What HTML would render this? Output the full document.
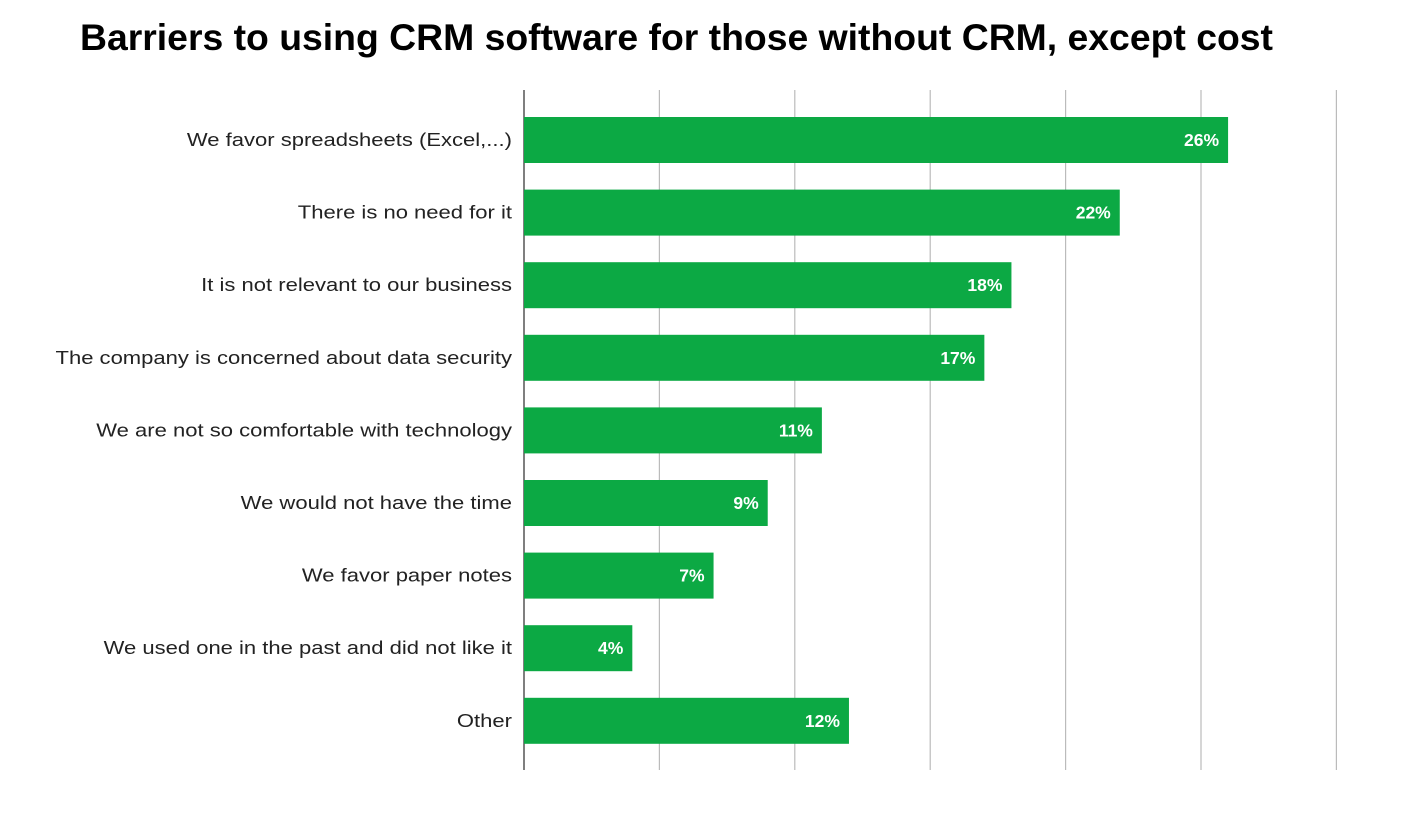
<!DOCTYPE html>
<html><head><meta charset="utf-8"><style>
body{margin:0;background:#fff;}
svg{display:block;font-family:"Liberation Sans",sans-serif;}
</style></head><body>
<svg id="chart" width="1403" height="817" viewBox="0 0 1403 817">
<text x="80" y="50" font-size="37" font-weight="bold" fill="#000" textLength="1193" lengthAdjust="spacingAndGlyphs">Barriers to using CRM software for those without CRM, except cost</text>
<g id="grid"></g><g id="bars"></g>
</svg>
<script>
const categories=["We favor spreadsheets (Excel,...)","There is no need for it","It is not relevant to our business","The company is concerned about data security","We are not so comfortable with technology","We would not have the time","We favor paper notes","We used one in the past and did not like it","Other"];
const values=[26,22,18,17,11,9,7,4,12];
const ticks=[0,5,10,15,20,25,30];
const NS="http://www.w3.org/2000/svg";
const x0=524,pxPer=27.08,top0=117,step=72.6,bh=46,yTop=90,yBot=770;
const xs=v=>x0+v*pxPer;
function mk(t,a,p){const e=document.createElementNS(NS,t);for(const k in a)e.setAttribute(k,a[k]);p.appendChild(e);return e;}
const grid=document.getElementById('grid'),bars=document.getElementById('bars');
ticks.forEach((t,i)=>{const l=mk('line',{x1:xs(t),x2:xs(t),y1:yTop,y2:yBot,stroke:i===0?'#555':'#bbb','stroke-width':i===0?1.5:1.2},grid);

});
categories.forEach((c,i)=>{const y=top0+i*step;
const r=mk('rect',{x:x0,y:y,width:xs(values[i])-x0,height:bh,fill:'#0ca944'},bars);


const lb=mk('text',{x:512,y:y+bh/2+6,'text-anchor':'end','font-size':18.5,fill:'#222'},bars);lb.textContent=c;


const w=lb.getComputedTextLength();
lb.setAttribute('textLength',(w*1.19).toFixed(1));
lb.setAttribute('lengthAdjust','spacingAndGlyphs');
const v=mk('text',{x:xs(values[i])-9,y:y+bh/2+6,'text-anchor':'end','font-size':17.5,'font-weight':'bold',fill:'#fff'},bars);v.textContent=values[i]+'%';

});
</script>
</body></html>
